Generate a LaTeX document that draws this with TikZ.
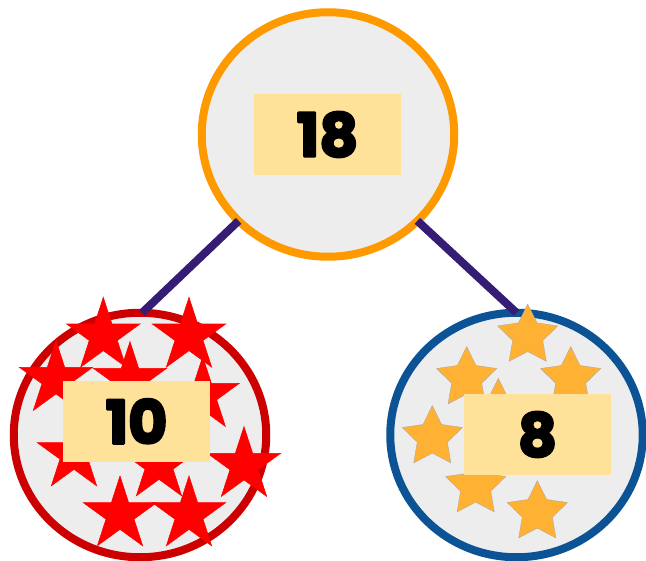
\documentclass[tikz,border=0pt]{standalone}
\usepackage{fontspec}
\setmainfont{Poppins}[BoldFeatures={FakeBold=4}]
\usetikzlibrary{shapes.geometric}
\definecolor{discfill}{HTML}{EDEDED}
\definecolor{topring}{HTML}{FF9900}
\definecolor{leftring}{HTML}{CC0000}
\definecolor{rightring}{HTML}{0B5394}
\definecolor{linkcol}{HTML}{351C75}
\definecolor{labelfill}{HTML}{FFE299}
\definecolor{goldstar}{HTML}{FFB133}
\tikzset{
  disc/.style={ellipse,fill=discfill,line width=8pt,minimum width=252.5pt,minimum height=244.5pt,inner sep=0pt,outer sep=0pt},
  redstar/.style={star,star points=5,star point ratio=2.618,fill=red,draw=red,line width=.6pt,minimum size=77pt,inner sep=0pt,outer sep=0pt},
  orangestar/.style={star,star points=5,star point ratio=2,fill=goldstar,draw=gray!70,line width=.3pt,minimum size=63.4pt,inner sep=0pt,outer sep=0pt},
  numbox/.style={fill=labelfill,minimum width=147pt,minimum height=81pt,inner sep=0pt,outer sep=0pt,font=\bfseries\fontsize{60}{60}\selectfont\special{pdf:code 1 j},text=black},
  link/.style={draw=linkcol,line width=8pt}
}
\begin{document}
\begin{tikzpicture}[x=1pt,y=-1pt]
\useasboundingbox (0,0) rectangle (646,561);
\node[disc,draw=topring] (top) at (328,134.5) {};
\node[disc,draw=leftring] (left) at (140,435) {};
\node[disc,draw=rightring] (right) at (516.5,435) {};
\draw[link] (top.224) -- (left.89);
\draw[link] (top.-44) -- (right.90);
\node[redstar] (r1) at (103.3,335.9) {};
\node[redstar] (r2) at (189,335.9) {};
\node[redstar] (r3) at (56,379.2) {};
\node[redstar] (r4) at (130,380.2) {};
\node[redstar] (r5) at (202.7,395.2) {};
\node[redstar] (r6) at (74,454.6) {};
\node[redstar] (r7) at (159,464.6) {};
\node[redstar] (r8) at (244,465.2) {};
\node[redstar] (r9) at (120,514.6) {};
\node[redstar] (r10) at (189,514.6) {};
\node[orangestar] (o1) at (527.7,335.7) {};
\node[orangestar] (o2) at (466.7,378.3) {};
\node[orangestar] (o3) at (570.7,378.3) {};
\node[orangestar] (o4) at (498.3,410) {};
\node[orangestar] (o5) at (432.3,437.3) {};
\node[orangestar] (o6) at (475.7,486.3) {};
\node[orangestar] (o7) at (537.3,512.3) {};
\node[numbox] (n18) at (327.5,134.5) {18};
\node[numbox] (n10) at (136.5,421.3) {10};
\node[numbox] (n8) at (537.5,434.5) {8};
\end{tikzpicture}
\end{document}
